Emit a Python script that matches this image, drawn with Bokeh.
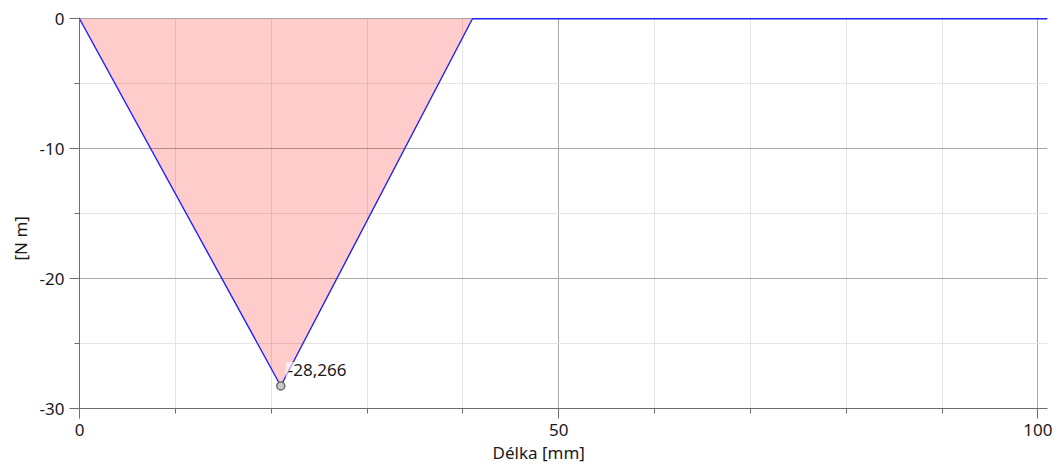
from bokeh.plotting import figure
from bokeh.models import ColumnDataSource, Range1d, FixedTicker, Label, Title
from bokeh.embed import file_html
from bokeh.resources import INLINE

# Bending moment along the shaft
length_mm = [0, 21, 41, 101]
moment_nm = [0, -28.266, 0, 0]

peak_x = 21
peak_value = -28.266
peak_text = "-28,266"

x_major = [0, 50, 100]
x_minor = [10, 20, 30, 40, 60, 70, 80, 90]
y_major = [0, -10, -20, -30]
y_minor = [-5, -15, -25]

x_title = "Délka [mm]"
y_title = "[N m]"

FONT = "Noto Sans"
TEXT = "#1a1a1a"
SIZE = "17px"

src = ColumnDataSource(dict(x=length_mm, y=moment_nm, base=[0] * len(length_mm)))

p = figure(width=1054, height=469, output_backend="svg", toolbar_location=None,
           x_range=Range1d(0, 101), y_range=Range1d(-30, 0.1),
           min_border_left=79, min_border_right=7, min_border_top=17,
           min_border_bottom=61)
p.outline_line_color = None
p.background_fill_color = "white"
p.border_fill_color = "white"

# area between the curve and zero
p.varea(x="x", y1="y", y2="base", source=src, fill_color="red", fill_alpha=0.2)
p.line(x="x", y="y", source=src, line_color="#2020ff", line_width=1.4)

# marked extreme value
p.scatter(x=[peak_x], y=[peak_value], size=8, marker="circle",
          fill_color="#c8c8c8", line_color="#6a6a6a", line_width=1.5)
p.add_layout(Label(x=peak_x, y=peak_value, text=peak_text, x_offset=5, y_offset=8,
                   text_font=FONT, text_font_size=SIZE, text_color=TEXT,
                   text_baseline="bottom", background_fill_color="white",
                   background_fill_alpha=0.6, padding=2))

for ax, ticks, minors in ((p.xaxis[0], x_major, x_minor), (p.yaxis[0], y_major, y_minor)):
    ax.ticker = FixedTicker(ticks=ticks, minor_ticks=minors)
    ax.major_label_overrides = {t: str(t) for t in ticks}
    ax.axis_line_color = "#6e6e6e"
    ax.major_tick_line_color = "#6e6e6e"
    ax.minor_tick_line_color = "#6e6e6e"
    ax.major_tick_in = 0
    ax.major_tick_out = 10
    ax.minor_tick_in = 0
    ax.minor_tick_out = 5
    ax.major_label_text_font = FONT
    ax.major_label_text_font_size = SIZE
    ax.major_label_text_color = TEXT
    ax.major_label_standoff = 5

for g, ticks, minors in ((p.xgrid[0], x_major, x_minor), (p.ygrid[0], y_major, y_minor)):
    g.ticker = FixedTicker(ticks=ticks, minor_ticks=minors)
    g.grid_line_color = "#a8a8a8"
    g.minor_grid_line_color = "#e4e4e4"

# axis titles
p.add_layout(Title(text=x_title, align="left", offset=413, text_font=FONT,
                   text_font_size=SIZE, text_font_style="normal", text_color=TEXT,
                   standoff=0), "below")
p.add_layout(Title(text=y_title, align="left", offset=148, text_font=FONT,
                   text_font_size=SIZE, text_font_style="normal", text_color=TEXT,
                   standoff=10), "left")

open("out.html", "w").write(file_html(p, INLINE))
